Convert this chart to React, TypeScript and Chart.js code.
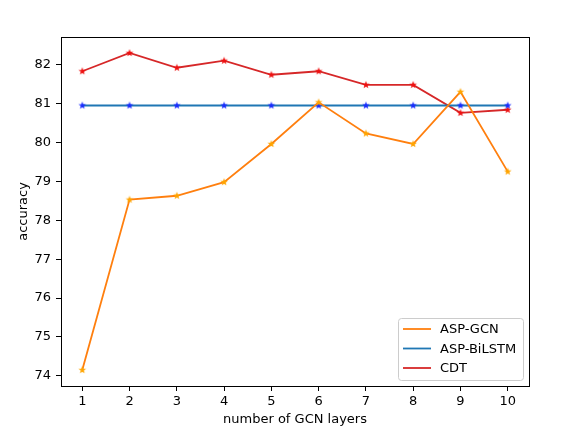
import { useEffect, useRef } from "react";
import { Chart, registerables, type ChartConfiguration, type Plugin } from "chart.js";

Chart.register(...registerables);

const layers = [1, 2, 3, 4, 5, 6, 7, 8, 9, 10];
const aspGcn = [74.15, 78.53, 78.63, 78.98, 79.96, 81.03, 80.23, 79.96, 81.3, 79.25];
const aspBilstm = [80.95, 80.95, 80.95, 80.95, 80.95, 80.95, 80.95, 80.95, 80.95, 80.95];
const cdt = [81.83, 82.3, 81.92, 82.1, 81.74, 81.83, 81.48, 81.48, 80.76, 80.84];

const FONT = "'DejaVu Sans', sans-serif";

function starImage(color: string, r: number): HTMLCanvasElement {
  const c = document.createElement("canvas");
  const size = Math.ceil(r * 2) + 2;
  c.width = size;
  c.height = size;
  const ctx = c.getContext("2d")!;
  const cx = size / 2;
  const cy = size / 2;
  ctx.beginPath();
  for (let i = 0; i < 10; i++) {
    const rad = i % 2 === 0 ? r : r * 0.42;
    const a = -Math.PI / 2 + (i * Math.PI) / 5;
    const px = cx + rad * Math.cos(a);
    const py = cy + rad * Math.sin(a);
    if (i === 0) ctx.moveTo(px, py);
    else ctx.lineTo(px, py);
  }
  ctx.closePath();
  ctx.fillStyle = color;
  ctx.fill();
  return c;
}

const frameAndLegend: Plugin<"line"> = {
  id: "frameAndLegend",
  afterDraw(chart) {
    const { ctx, chartArea } = chart;
    ctx.save();
    ctx.strokeStyle = "#000";
    ctx.lineWidth = 1;
    ctx.strokeRect(
      Math.round(chartArea.left) + 0.5,
      Math.round(chartArea.top) + 0.5,
      Math.round(chartArea.right - chartArea.left),
      Math.round(chartArea.bottom - chartArea.top)
    );

    // legend box, lower right
    const w = 125;
    const h = 62;
    const x = chartArea.right - 6 - w;
    const y = chartArea.bottom - 6 - h;
    ctx.beginPath();
    ctx.roundRect(x + 0.5, y + 0.5, w, h, 3);
    ctx.fillStyle = "rgba(255,255,255,0.8)";
    ctx.fill();
    ctx.strokeStyle = "#cccccc";
    ctx.stroke();
    ctx.font = `13px ${FONT}`;
    ctx.textBaseline = "middle";
    ctx.textAlign = "left";
    chart.data.datasets.forEach((ds, i) => {
      const ly = y + 11 + i * 19.5;
      ctx.beginPath();
      ctx.moveTo(x + 5, ly);
      ctx.lineTo(x + 33, ly);
      ctx.strokeStyle = ds.borderColor as string;
      ctx.lineWidth = 1.8;
      ctx.stroke();
      ctx.fillStyle = "#000";
      ctx.fillText(ds.label ?? "", x + 42, ly + 1);
    });
    ctx.restore();
  },
};

export default function App() {
  const canvasRef = useRef<HTMLCanvasElement | null>(null);

  useEffect(() => {
    document.body.style.margin = "0";
    const canvas = canvasRef.current;
    if (!canvas) return;

    const points = (vals: number[]) => layers.map((x, i) => ({ x, y: vals[i] }));

    const config: ChartConfiguration<"line"> = {
      type: "line",
      data: {
        datasets: [
          {
            label: "ASP-GCN",
            data: points(aspGcn),
            borderColor: "#ff7f0e",
            borderWidth: 1.8,
            pointStyle: starImage("#ffa500", 4),
            pointRadius: 4,
          },
          {
            label: "ASP-BiLSTM",
            data: points(aspBilstm),
            borderColor: "#1f77b4",
            borderWidth: 1.8,
            pointStyle: starImage("#1a2cff", 4),
            pointRadius: 4,
          },
          {
            label: "CDT",
            data: points(cdt),
            borderColor: "#d62728",
            borderWidth: 1.8,
            pointStyle: starImage("#ee1111", 4),
            pointRadius: 4,
          },
        ],
      },
      options: {
        responsive: false,
        animation: false,
        layout: { padding: { top: 37, right: 35, left: 0, bottom: 0 } },
        plugins: {
          legend: { display: false },
          tooltip: { enabled: false },
        },
        scales: {
          x: {
            type: "linear",
            min: 0.55,
            max: 10.45,
            afterFit: (scale) => {
              scale.height = 58;
            },
            afterBuildTicks: (scale) => {
              scale.ticks = layers.map((v) => ({ value: v }));
            },
            ticks: {
              stepSize: 1,
              includeBounds: false,
              color: "#000",
              padding: 3,
              font: { family: FONT, size: 13 },
            },
            grid: {
              display: true,
              drawOnChartArea: false,
              drawTicks: true,
              tickLength: 5,
              color: "#000",
            },
            border: { display: true, color: "#000" },
            title: {
              display: true,
              text: "number of GCN layers",
              color: "#000",
              font: { family: FONT, size: 13 },
              padding: { top: 17, bottom: 17 },
            },
          },
          y: {
            type: "linear",
            min: 73.74,
            max: 82.71,
            afterFit: (scale) => {
              scale.width = 61;
            },
            ticks: {
              stepSize: 1,
              includeBounds: false,
              color: "#000",
              padding: 5,
              font: { family: FONT, size: 13 },
            },
            grid: {
              display: true,
              drawOnChartArea: false,
              drawTicks: true,
              tickLength: 5,
              color: "#000",
            },
            border: { display: true, color: "#000" },
            title: {
              display: true,
              text: "accuracy",
              color: "#000",
              font: { family: FONT, size: 13 },
              padding: { top: 16, bottom: 16 },
            },
          },
        },
      },
      plugins: [frameAndLegend],
    };

    const chart = new Chart(canvas, config);
    return () => {
      chart.destroy();
    };
  }, []);

  return (
    <div style={{ width: 564, height: 444, background: "#fff" }}>
      <canvas ref={canvasRef} width={564} height={444} />
    </div>
  );
}
